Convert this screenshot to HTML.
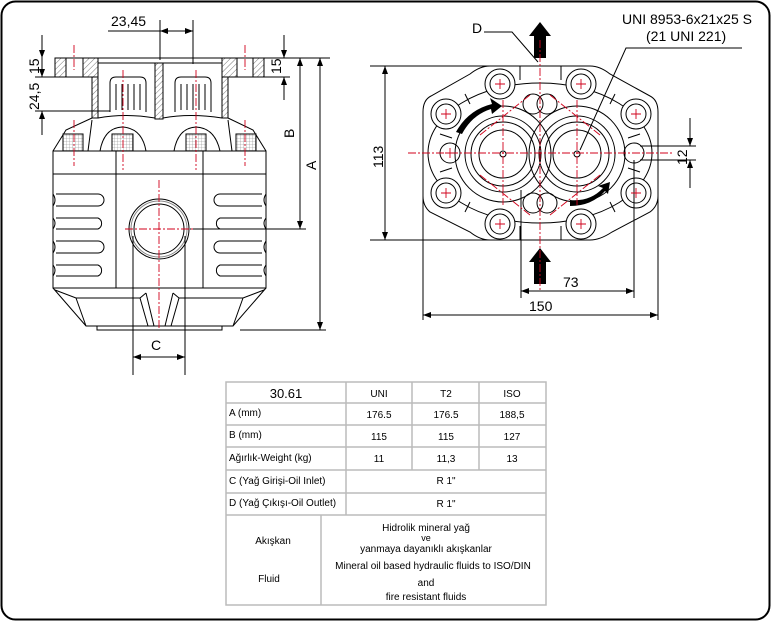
<!DOCTYPE html>
<html><head><meta charset="utf-8"><style>
html,body{margin:0;padding:0;background:#fff;}
svg{display:block;font-family:"Liberation Sans",sans-serif;}
</style></head><body>
<svg width="771" height="621" viewBox="0 0 771 621" xmlns="http://www.w3.org/2000/svg">
<defs>
<pattern id="h" width="4" height="4" patternUnits="userSpaceOnUse" patternTransform="rotate(45)"><line x1="0" y1="0" x2="0" y2="4" stroke="#555" stroke-width="0.8"/></pattern>
<pattern id="g" width="3" height="3" patternUnits="userSpaceOnUse"><path d="M0 0H3M0 0V3" stroke="#888" stroke-width="0.6" fill="none"/></pattern>
<marker id="a" markerWidth="8" markerHeight="6" refX="8" refY="3" orient="auto-start-reverse" markerUnits="userSpaceOnUse"><path d="M0 0L8 3L0 6z" fill="#000"/></marker>
</defs>
<rect x="1.5" y="1.5" width="768" height="618" rx="14" fill="none" stroke="#000" stroke-width="2"/>

<g stroke="#000" stroke-width="1" fill="none">
<rect x="55" y="58" width="11" height="19" fill="url(#h)"/>
<rect x="83" y="58" width="15" height="19" fill="url(#h)"/>
<rect x="222" y="58" width="15" height="19" fill="url(#h)"/>
<rect x="253" y="58" width="11" height="19" fill="url(#h)"/>
<path d="M55 58H330 M98 58V63H222V58 M35 77H92 M230 77H290"/>
<rect x="92" y="77" width="6" height="41" fill="url(#h)"/>
<rect x="222" y="77" width="6" height="41" fill="url(#h)"/>
<rect x="155" y="63" width="8" height="56" fill="url(#h)"/>
<path d="M35 111H110 M98 118Q125 113 155 118 M163 118Q190 113 222 118"/>
<path d="M110 112V83Q110 77 116 77H140Q146 77 146 83V112"/>
<path d="M116 110V84M122 110V84M128 110V84M134 110V84M140 110V84"/>
<path d="M175 112V83Q175 77 181 77H205Q211 77 211 83V112"/>
<path d="M181 110V84M187 110V84M193 110V84M199 110V84M205 110V84"/>
<path d="M53 151L66 130L92 118 M266 151L253 130L228 118 M88 151L92 120 M232 151L228 120"/>
<path d="M100 151Q104 128 122 127Q142 128 146 151 M174 151Q178 128 196 127Q215 128 220 151"/>
<rect x="63" y="134" width="20" height="17" fill="url(#g)"/>
<rect x="112" y="134" width="21" height="17" fill="url(#g)"/>
<rect x="186" y="134" width="20" height="17" fill="url(#g)"/>
<rect x="236" y="134" width="20" height="17" fill="url(#g)"/>
<rect x="53" y="151" width="213" height="137"/>
<path d="M53 174H266 M116 151V288 M203 151V288"/>
<path d="M56 194H98A6 6 0 0 1 98 206H56 M56 218H98A6 6 0 0 1 98 229H56 M56 241H98A6 6 0 0 1 98 253H56 M56 265H98A6 6 0 0 1 98 276H56"/>
<path d="M53 194Q57 200 53 206M53 218Q57 223 53 229M53 241Q57 247 53 253M53 265Q57 270 53 276"/>
<path d="M262 194H220A6 6 0 0 0 220 206H262 M262 218H220A6 6 0 0 0 220 229H262 M262 241H220A6 6 0 0 0 220 253H262 M262 265H220A6 6 0 0 0 220 276H262"/>
<path d="M266 194Q262 200 266 206M266 218Q262 223 266 229M266 241Q262 247 266 253M266 265Q262 270 266 276"/>
<circle cx="159" cy="229" r="30"/><circle cx="159" cy="229" r="28" stroke="#888"/><circle cx="159" cy="229" r="25"/>
<path d="M53 288L86 326H233L266 288 M55 290L76 298H140L146 293 M264 290L243 298H179L173 293 M76 298L86 326 M243 298L233 326 M140 298L148 326 M179 298L171 326 M146 293L154 326 M173 293L165 326 M97 326V330H222V326"/>
<path d="M133 236V375 M185 236V375"/>
<path d="M133 357H185" marker-start="url(#a)" marker-end="url(#a)"/>
<path d="M160 20V60 M193 20V64 M108 31H160"/>
<path d="M160 31H193" marker-start="url(#a)" marker-end="url(#a)"/>
<path d="M42 35V58" marker-end="url(#a)"/><path d="M42 77V58" marker-start="url(#a)"/>
<path d="M42 111V135" marker-start="url(#a)"/>
<path d="M284 35V58" marker-end="url(#a)"/><path d="M284 77V100" marker-start="url(#a)"/>
<path d="M190 229H306 M240 330H326"/>
<path d="M300 58V229" marker-start="url(#a)" marker-end="url(#a)"/>
<path d="M320 58V330" marker-start="url(#a)" marker-end="url(#a)"/>

<path d="M490 66H590Q600 66 610 74L650 96Q658 100 658 112V196Q658 206 650 212L612 232Q600 240 590 240H490Q480 240 470 232L430 212Q423 206 423 196V112Q423 100 431 96L470 74Q480 66 490 66Z"/>
<ellipse cx="540" cy="153" rx="112" ry="70"/>
<path d="M520 66V80 M561 66V80 M520 240V226 M561 240V226 M465 94L470 104 M615 94L610 104 M465 212L470 202 M615 212L610 202 M440 134L452 138 M640 134L628 138 M440 172L452 168 M640 172L628 168"/>
<circle cx="503" cy="154" r="48"/><circle cx="503" cy="154" r="38"/><circle cx="503" cy="154" r="32"/><circle cx="503" cy="154" r="24"/><circle cx="503" cy="154" r="3"/>
<circle cx="577" cy="154" r="48"/><circle cx="577" cy="154" r="38"/><circle cx="577" cy="154" r="32"/><circle cx="577" cy="154" r="24"/><circle cx="577" cy="154" r="3"/>
<g fill="#fff">
<circle cx="500" cy="84" r="15"/><circle cx="581" cy="84" r="15"/><circle cx="446" cy="114" r="15"/><circle cx="636" cy="114" r="15"/>
<circle cx="446" cy="193" r="15"/><circle cx="636" cy="193" r="15"/><circle cx="500" cy="224" r="15"/><circle cx="581" cy="224" r="15"/>
</g>
<circle cx="500" cy="84" r="10"/><circle cx="581" cy="84" r="10"/><circle cx="446" cy="114" r="10"/><circle cx="636" cy="114" r="10"/>
<circle cx="446" cy="193" r="10"/><circle cx="636" cy="193" r="10"/><circle cx="500" cy="224" r="10"/><circle cx="581" cy="224" r="10"/>
<circle cx="450" cy="153" r="10"/><circle cx="634" cy="153" r="10"/>
<circle cx="533" cy="104" r="10"/><circle cx="547" cy="104" r="10"/><circle cx="533" cy="203" r="10"/><circle cx="547" cy="203" r="10"/>
<path d="M370 66H490 M370 240H490"/>
<path d="M385 66V240" marker-start="url(#a)" marker-end="url(#a)"/>
<path d="M423 160V320 M658 160V320 M521 190V298 M634 160V298"/>
<path d="M423 315H658" marker-start="url(#a)" marker-end="url(#a)"/>
<path d="M521 291H634" marker-start="url(#a)" marker-end="url(#a)"/>
<path d="M640 146H696 M640 160H696"/>
<path d="M690 118V146" marker-end="url(#a)"/><path d="M690 160V188" marker-start="url(#a)"/>
<path d="M484 32H512L538 62 M742 48H626L580 150"/>
</g>
<path d="M534 58V36H529L540 22L551 36H546V58Z" fill="#000"/>
<path d="M534 284V262H529L540 248L551 262H546V284Z" fill="#000"/>
<path d="M456 132Q468 110 492 104L490 98L502 106L492 114L491 109Q472 115 462 134Z" fill="#000"/>
<path d="M570 200Q590 202 603 188L598 186L610 182L608 194L605 191Q592 206 570 206Z" fill="#000"/>
<g stroke="#d0021b" stroke-width="0.9" stroke-dasharray="8,2,2,2" fill="none">
<path d="M74 45V70M74 120V166 M245 45V70M245 120V166 M123 70V170 M196 70V170 M159 180V330 M125 229H195"/>
<path d="M540 40V290 M408 153H672 M503 100V205 M577 100V205 M480 135L530 95 M600 135L550 95 M480 175L530 215 M600 175L550 215"/>
</g>
<g stroke="#d0021b" stroke-width="0.9">
<path d="M495 84h10M500 79v10 M576 84h10M581 79v10 M441 114h10M446 109v10 M631 114h10M636 109v10 M441 193h10M446 188v10 M631 193h10M636 188v10 M495 224h10M500 219v10 M576 224h10M581 219v10 M445 153h10M450 148v10"/>
</g>
<g font-size="14" fill="#000">
<text x="111" y="26">23,45</text>
<text x="151" y="350">C</text>
<text transform="translate(39,74) rotate(-90)">15</text>
<text transform="translate(39,110) rotate(-90)">24,5</text>
<text transform="translate(281,74) rotate(-90)">15</text>
<text transform="translate(294,138) rotate(-90)">B</text>
<text transform="translate(316,170) rotate(-90)">A</text>
<text transform="translate(383,168) rotate(-90)">113</text>
<text transform="translate(687,165) rotate(-90)">12</text>
<text x="563" y="287">73</text>
<text x="529" y="311">150</text>
<text x="472" y="33">D</text>
<text x="622" y="24">UNI 8953-6x21x25 S</text>
<text x="646" y="41">(21 UNI 221)</text>
</g>

<g stroke="#bbb" stroke-width="1.5" fill="none">
<rect x="226" y="382" width="320" height="223"/>
<path d="M226 403H546 M226 425H546 M226 447H546 M226 470H546 M226 493H546 M226 515H546 M346 382V515 M412 382V470 M479 382V470 M321 515V605"/>
</g>
<g font-size="10" fill="#000" text-anchor="middle">
<text x="286" y="398" font-size="13">30.61</text>
<text x="379" y="397">UNI</text><text x="446" y="397">T2</text><text x="512" y="397">ISO</text>
<text x="379" y="418">176.5</text><text x="446" y="418">176.5</text><text x="512" y="418">188,5</text>
<text x="379" y="440">115</text><text x="446" y="440">115</text><text x="512" y="440">127</text>
<text x="379" y="462">11</text><text x="446" y="462">11,3</text><text x="512" y="462">13</text>
<text x="446" y="484">R 1"</text><text x="446" y="507">R 1"</text>
<text x="273" y="544">Akışkan</text><text x="269" y="582">Fluid</text>
<text x="426" y="531">Hidrolik mineral yağ</text>
<text x="426" y="541" font-size="9">ve</text>
<text x="426" y="552">yanmaya dayanıklı akışkanlar</text>
<text x="433" y="569">Mineral oil based hydraulic fluids to ISO/DIN</text>
<text x="426" y="586">and</text>
<text x="426" y="600">fire resistant fluids</text>
</g>
<g font-size="10" fill="#000">
<text x="229" y="416">A (mm)</text>
<text x="229" y="438">B (mm)</text>
<text x="229" y="461">Ağırlık-Weight (kg)</text>
<text x="229" y="484">C (Yağ Girişi-Oil Inlet)</text>
<text x="229" y="506">D (Yağ Çıkışı-Oil Outlet)</text>
</g>
</svg>
</body></html>
